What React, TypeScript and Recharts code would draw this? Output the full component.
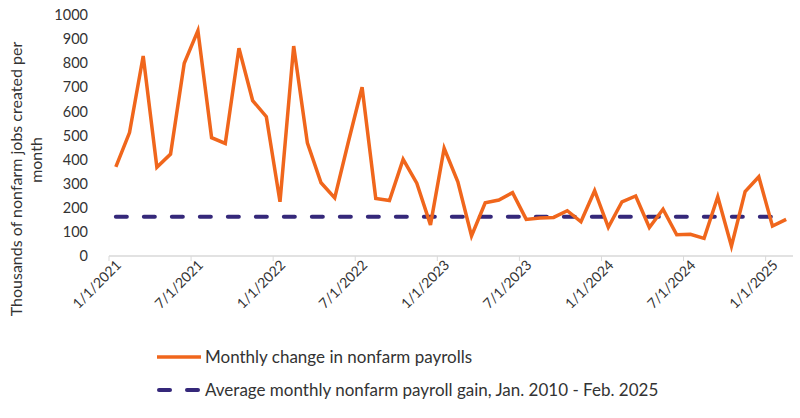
import React from 'react';
import { LineChart, Line, XAxis, YAxis } from 'recharts';

// Monthly change in nonfarm payrolls (thousands), Jan 2021 – Feb 2025
const payrolls = [
  370, 512, 830, 368, 423, 800, 935, 491, 467, 862, 645, 578,
  225, 871, 470, 304, 241, 474, 700, 239, 230, 401, 302, 129,
  447, 308, 83, 221, 232, 263, 152, 158, 160, 188, 142, 271,
  119, 225, 249, 118, 194, 88, 90, 73, 246, 41, 267, 329,
  124, 152,
];
const averageGain = 163;

const tickLabels = [
  '1/1/2021', '7/1/2021', '1/1/2022', '7/1/2022', '1/1/2023',
  '7/1/2023', '1/1/2024', '7/1/2024', '1/1/2025',
];
const tickMonthIndex = [0, 6, 12, 18, 24, 30, 36, 42, 48];
const yTicks = [0, 100, 200, 300, 400, 500, 600, 700, 800, 900, 1000];
const seriesNames = [
  'Monthly change in nonfarm payrolls',
  'Average monthly nonfarm payroll gain, Jan. 2010 - Feb. 2025',
];
const yAxisTitle = ['Thousands of nonfarm jobs created per', 'month'];

const ORANGE = '#F0661C';
const NAVY = '#35287A';
const TEXT = '#333333';
const FONT = 'Lato, "Open Sans", sans-serif';

const data = payrolls.map((v, i) => ({ slot: i + 0.5, payrolls: v, average: averageGain }));

const XTick = (props: any) => {
  const { x, y, payload } = props;
  const idx = tickMonthIndex.indexOf(payload.value);
  const label = idx >= 0 ? tickLabels[idx] : '';
  const ax = x + 13;
  const ay = y + 3;
  return (
    <text
      x={ax}
      y={ay}
      transform={`rotate(-45 ${ax} ${ay})`}
      textAnchor="end"
      fontSize={14}
      fontFamily={FONT}
      fill={TEXT}
    >
      {label}
    </text>
  );
};

export default function App() {
  return (
    <div style={{ position: 'absolute', left: 0, top: 0, width: 800, height: 418, background: '#fff' }}>
      <LineChart
        width={800}
        height={418}
        data={data}
        margin={{ top: 15, right: 7, left: 0, bottom: 0 }}
      >
        <XAxis
          type="number"
          dataKey="slot"
          domain={[0, 50]}
          ticks={tickMonthIndex}
          interval={0}
          height={162}
          tickSize={5}
          stroke="#d9d9d9"
          tickLine={{ stroke: '#d9d9d9' }}
          axisLine={{ stroke: '#d9d9d9', strokeWidth: 1.5 }}
          tick={<XTick />}
          allowDataOverflow
        />
        <YAxis
          type="number"
          domain={[0, 1000]}
          ticks={yTicks}
          interval={0}
          width={109}
          axisLine={false}
          tickLine={false}
          tickSize={0}
          tickMargin={21}
          tick={{ fontSize: 14.5, fill: TEXT, fontFamily: FONT }}
        />
        <Line
          type="linear"
          dataKey="average"
          stroke={NAVY}
          strokeWidth={4}
          strokeDasharray="11 17"
          strokeLinecap="round"
          dot={false}
          activeDot={false}
          isAnimationActive={false}
        />
        <Line
          type="linear"
          dataKey="payrolls"
          stroke={ORANGE}
          strokeWidth={3.5}
          strokeLinejoin="miter"
          dot={false}
          activeDot={false}
          isAnimationActive={false}
        />
      </LineChart>
      <svg
        width={800}
        height={418}
        style={{ position: 'absolute', left: 0, top: 0, pointerEvents: 'none' }}
      >
        <text
          transform="translate(22 179) rotate(-90)"
          textAnchor="middle"
          fontSize={16}
          fontFamily={FONT}
          fill={TEXT}
        >
          {yAxisTitle[0]}
        </text>
        <text
          transform="translate(42 160) rotate(-90)"
          textAnchor="middle"
          fontSize={16}
          fontFamily={FONT}
          fill={TEXT}
        >
          {yAxisTitle[1]}
        </text>
        <line x1={157} y1={357} x2={201} y2={357} stroke={ORANGE} strokeWidth={3.5} />
        <text x={205} y={363} fontSize={17} fontFamily={FONT} fill={TEXT}>
          {seriesNames[0]}
        </text>
        <line x1={159} y1={390} x2={170} y2={390} stroke={NAVY} strokeWidth={4} strokeLinecap="round" />
        <line x1={187} y1={390} x2={198} y2={390} stroke={NAVY} strokeWidth={4} strokeLinecap="round" />
        <text x={205} y={396} fontSize={17} fontFamily={FONT} fill={TEXT}>
          {seriesNames[1]}
        </text>
      </svg>
    </div>
  );
}
